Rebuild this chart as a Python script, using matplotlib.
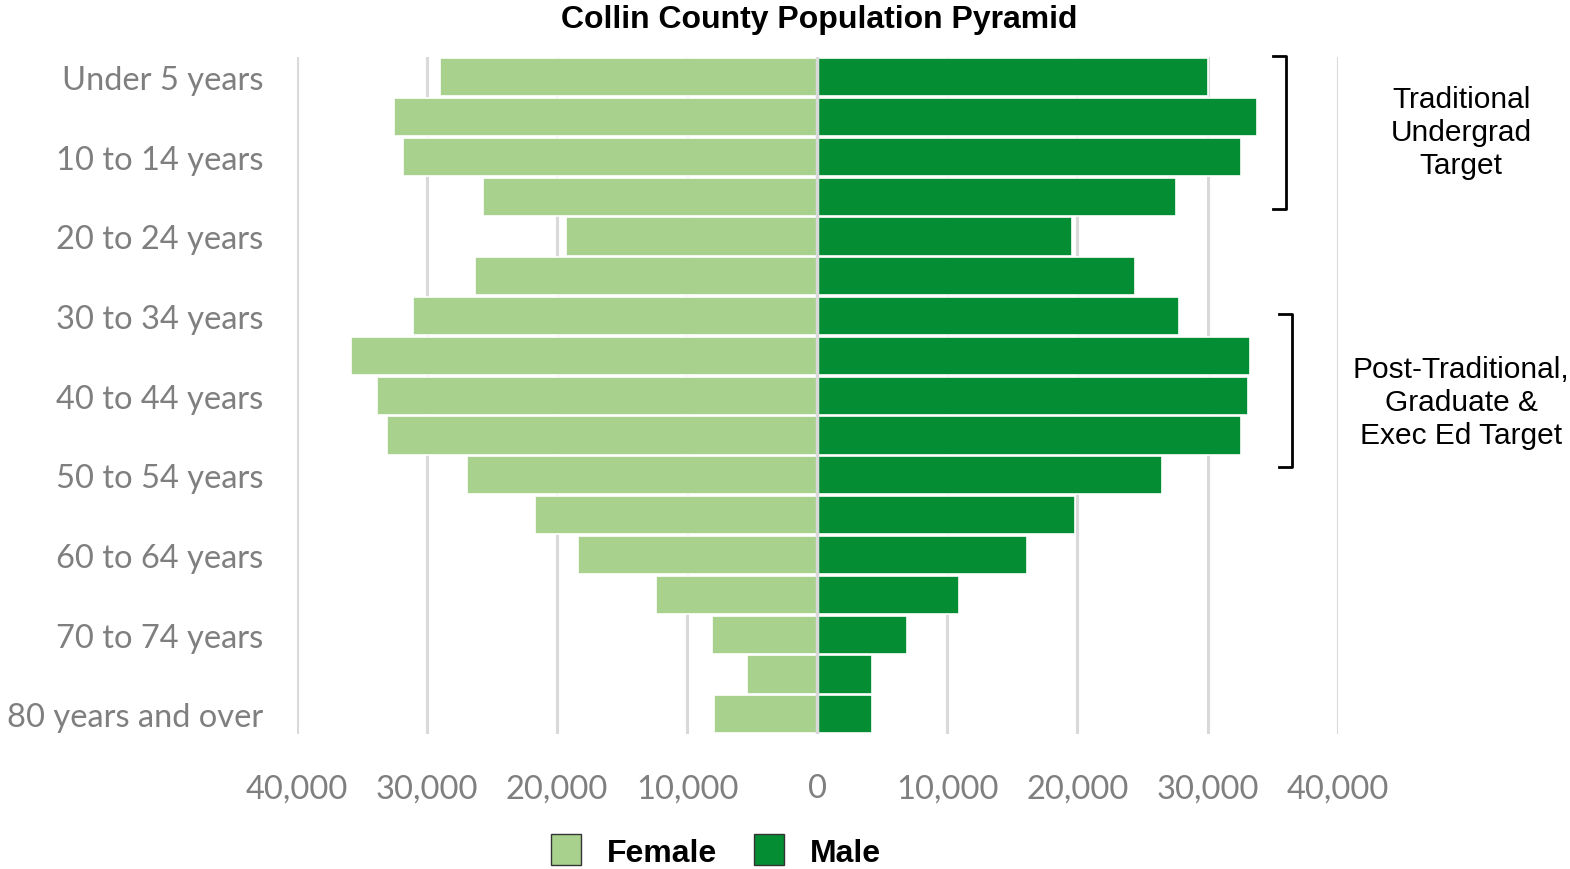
import matplotlib
matplotlib.use("Agg")
import matplotlib.pyplot as plt
from matplotlib.patches import Patch

AGE_GROUPS = [
    "Under 5 years", "5 to 9 years", "10 to 14 years", "15 to 19 years",
    "20 to 24 years", "25 to 29 years", "30 to 34 years", "35 to 39 years",
    "40 to 44 years", "45 to 49 years", "50 to 54 years", "55 to 59 years",
    "60 to 64 years", "65 to 69 years", "70 to 74 years", "75 to 79 years",
    "80 years and over",
]
FEMALE = [29000, 32500, 31800, 25700, 19300, 26300, 31100, 35800,
          33800, 33100, 26900, 21700, 18400, 12400, 8100, 5400, 7900]
MALE = [30000, 33800, 32600, 27600, 19600, 24400, 27800, 33300,
        33100, 32600, 26500, 19800, 16100, 10900, 6900, 4200, 4200]
XTICKS = [-40000, -30000, -20000, -10000, 0, 10000, 20000, 30000, 40000]

FEMALE_C = "#A9D18E"
MALE_C = "#058D33"
GRID_C = "#D9D9D9"
TICK_C = "#7F7F7F"
TICK_FONT = ["Lato", "DejaVu Sans"]
ARIAL = ["Liberation Sans", "DejaVu Sans"]

fig = plt.figure(figsize=(15.7, 8.7), dpi=100)
ax = fig.add_axes([0.189, 0.155, 0.663, 0.778])

y = list(range(len(AGE_GROUPS)))
ax.barh(y, [-v for v in FEMALE], height=0.96, color=FEMALE_C,
        edgecolor="white", linewidth=1.2, zorder=3)
ax.barh(y, MALE, height=0.96, color=MALE_C,
        edgecolor="white", linewidth=1.2, zorder=3)

ax.set_xlim(-40000, 40000)
ax.set_ylim(len(AGE_GROUPS) - 0.5, -0.5)
for x in XTICKS:
    ax.axvline(x, color=GRID_C, lw=2.2, zorder=1)
ax.axvline(0, color=GRID_C, lw=2.5, zorder=4)

ax.set_xticks(XTICKS)
ax.set_xticklabels([f"{abs(v):,}" for v in XTICKS], fontsize=23.5,
                   color=TICK_C, family=TICK_FONT)
ax.set_yticks(y[::2])
ax.set_yticklabels(AGE_GROUPS[::2], fontsize=23.5, color=TICK_C, family=TICK_FONT)
ax.tick_params(axis="x", length=0, pad=28)
ax.tick_params(axis="y", length=0, pad=24)
for s in ax.spines.values():
    s.set_visible(False)

# brackets for target groups
def bracket(x, y0, y1, w=1000):
    ax.plot([x - w, x, x, x - w], [y0, y0, y1, y1], color="black",
            lw=2, clip_on=False, zorder=4)

bracket(36000, -0.53, 3.3)
bracket(36500, 5.96, 9.79)

ax.text(49500, 1.38, "Traditional\nUndergrad\nTarget", ha="center", va="center",
        fontsize=21.5, family=ARIAL, linespacing=1.22, clip_on=False)
ax.text(49500, 8.15, "Post-Traditional,\nGraduate &\nExec Ed Target",
        ha="center", va="center", fontsize=21.5, family=ARIAL,
        linespacing=1.22, clip_on=False)

fig.text(0.5217, 0.977, "Collin County Population Pyramid", ha="center",
         va="center", fontsize=23, fontweight="bold", family=ARIAL)

handles = [Patch(facecolor=FEMALE_C, edgecolor="#333333", label="Female"),
           Patch(facecolor=MALE_C, edgecolor="#333333", label="Male")]
fig.legend(handles=handles, loc="center", bbox_to_anchor=(716 / 1570, 1 - 852 / 870),
           ncol=2, frameon=False, prop={"family": ARIAL, "weight": "bold", "size": 23},
           handlelength=0.95, handleheight=1.1, handletextpad=0.8, columnspacing=1.15)

plt.savefig("out.png", dpi=100)
plt.close()
